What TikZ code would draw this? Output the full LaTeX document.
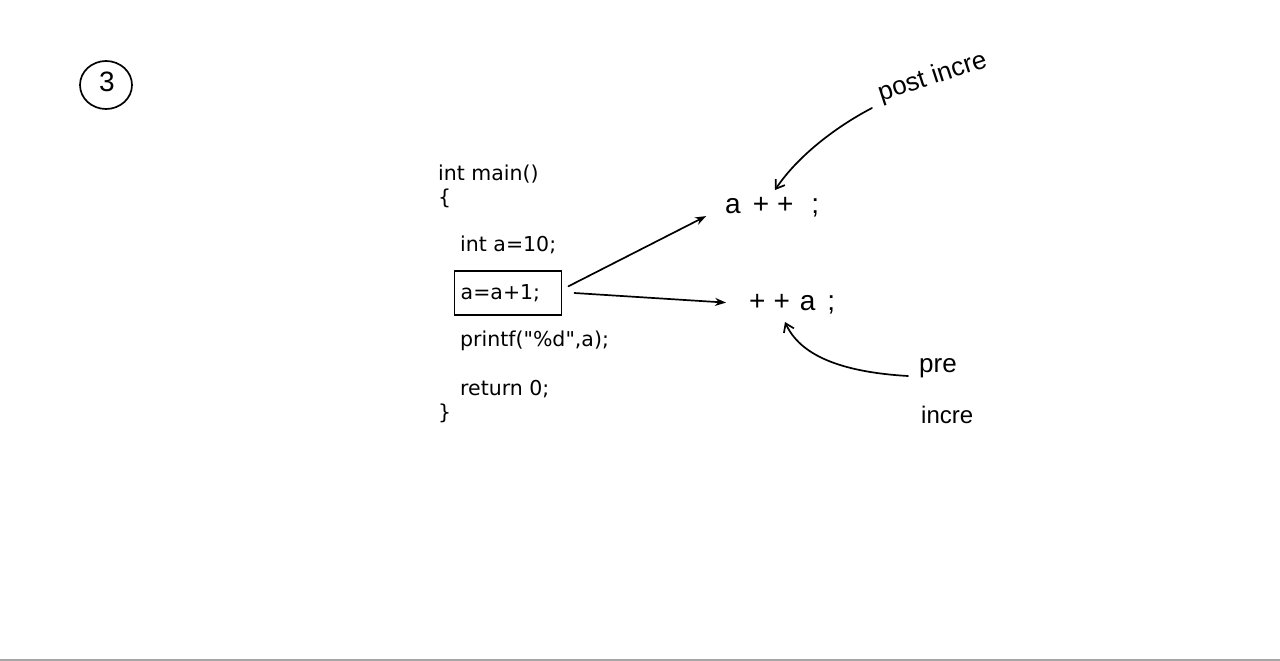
\documentclass[tikz,border=0pt]{standalone}
\usepackage{fontspec}
\setmainfont{DejaVu Sans}[Ligatures=TeXOff]
\newfontfamily\handfont{Liberation Sans}
\usetikzlibrary{arrows.meta,shapes.geometric}
\begin{document}
\begin{tikzpicture}[x=1pt,y=-1pt,
  code/.style={anchor=west,inner sep=0pt,font=\fontsize{20.5}{24}\selectfont},
  hand/.style={inner sep=1pt,font=\handfont\fontsize{24}{26}\selectfont},
  big/.style={font=\handfont\fontsize{28}{30}\selectfont},
  pen/.style={line width=1.7pt,line cap=round},
  arr/.style={pen,-{Stealth[length=11pt,width=8pt]}},
  handarr/.style={pen,-{Straight Barb[length=8pt,width=11pt]}}]
\useasboundingbox (0,0) rectangle (1280,661);
\fill[white] (0,0) rectangle (1280,661);
\draw[gray!70,line width=1.5pt] (0,660) -- (1280,660);

% page number
\draw[pen] (106,85) ellipse [x radius=26,y radius=24];
\node[hand,big] (num) at (107,82) {3};

% program listing
\node[code] (l1) at (438,174) {int main()};
\node[code] (l2) at (438,198) {\{};
\node[code] (l3) at (460,245) {int a=10;};
\node[code,draw,line width=1.4pt,inner xsep=6pt,minimum height=44pt,
      text width=95pt,align=left] (l4) at (454,293) {a=a+1;};
\node[code] (l5) at (460,341) {printf("\%d",a);};
\node[code] (l6) at (460,389) {return 0;};
\node[code] (l7) at (438,413) {\}};

% the two increment forms
\node[hand,big,anchor=west] (post) at (724,207) {a\hspace{12pt}+\hspace{8pt}+\hspace{18pt};};
\node[hand,big,anchor=west] (pre) at (748,304) {+\hspace{8pt}+\hspace{10pt}a\hspace{12pt};};
\draw[arr,shorten >=20pt] (l4.north east) ++(6,16) coordinate (s1) -- (post.west);
\draw[arr,shorten >=22pt] (l4.east) ++(12,0) coordinate (s2) -- (pre.west);

% annotations
\node[hand,rotate=18,anchor=south west,font=\handfont\fontsize{26}{28}\selectfont] (postlbl) at (882,108) {post incre};
\node[hand,anchor=west,font=\handfont\fontsize{26}{28}\selectfont] (prelbl) at (918,368) {pre};
\node[hand,anchor=west] (inclbl) at (920,415) {incre};
\draw[handarr] (postlbl.south west) ++(-10,0) .. controls (830,130) and (795,160) .. (775,190);
\draw[handarr] (prelbl.west) ++(-10,8) .. controls (840,372) and (800,355) .. (785,322);
\end{tikzpicture}
\end{document}
